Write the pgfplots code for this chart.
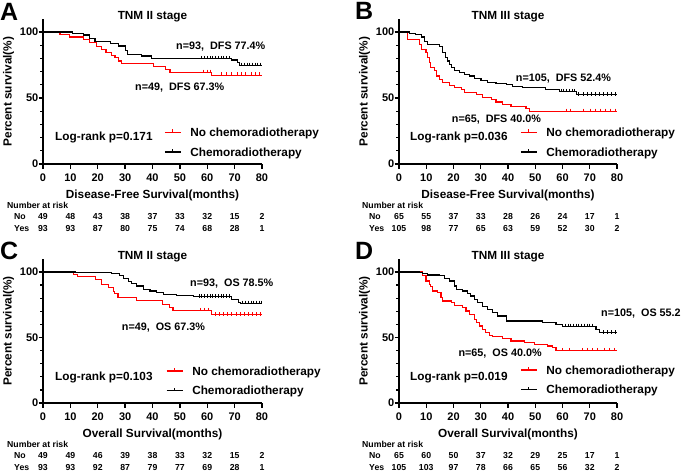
\documentclass[border=0pt]{standalone}
\usepackage{pgfplots}
\pgfplotsset{compat=1.18}
\usepackage{fontspec}
\setmainfont{Liberation Sans}
\newcommand\fs[1]{\bfseries\fontsize{#1}{#1}\selectfont}
\pgfplotsset{
 kmbase/.style={
  scale only axis,
  xmin=0, xmax=80, ymin=0, ymax=110,
  axis x line*=bottom, axis y line*=left,
  axis line style={line width=1.5pt, black},
  xtick={0,10,...,80}, ytick={0,50,100},
  minor ytick={10,20,30,40,60,70,80,90},
  tick align=outside,
  major tick length=4.5pt, minor tick length=3pt,
  tick style={black, line width=1.3pt},
  /pgf/number format/assume math mode=true,
  tick label style={font=\fs{11}},
  xticklabel style={anchor=base, inner sep=0pt, yshift=-13.2pt},
  yticklabel style={anchor=east, inner sep=0pt, xshift=0pt},
  clip=false,
  every axis y label/.style={at={(rel axis cs:0,0.5)}, rotate=90, anchor=center, yshift=34.5pt, font=\fs{11.8}},
  every axis x label/.style={at={(rel axis cs:0.5,0)}, anchor=base, yshift=-34.3pt, font=\fs{11.8}},
  ylabel={Percent survival(\%)},
  legend cell align=left,
  legend style={draw=none, fill=none, inner sep=0pt, font=\fs{11.8}, row sep=8.5pt,
    nodes={inner sep=0pt, text height=8.6pt, text depth=2.6pt}},
  legend image code/.code={\draw[#1, line width=1.2pt] (0pt,1.2pt) -- (16pt,1.2pt); \draw[#1, line width=1pt] (8pt,1.2pt) -- (8pt,4pt); \path (25pt,0pt);},
 },
 km/.style={const plot, line width=1.1pt},
 cens/.style={only marks, mark=|, mark size=1.7pt, mark options={line width=0.8pt, yshift=1pt}, forget plot},
}
\tikzset{lab/.style={inner sep=0pt, anchor=base west}}
\begin{document}
\begin{tikzpicture}
\path[use as bounding box] (0pt,0pt) rectangle (685pt,-471pt);
% ---------------- Panel A
\begin{axis}[kmbase, at={(43pt,-164pt)}, anchor=south west, width=219pt, height=145.2pt,
  xlabel={Disease-Free Survival(months)},
  legend style={at={(axis cs:44.2,15.7)}, anchor=west}]
\addplot[km, red] coordinates {(0,100)(6.2,98.2)(9.6,96.2)(14.7,94.4)(17,92)(19.6,89)(21.4,87)(23,84.3)(25,82.3)(26.3,80.5)(27.5,78)(28.7,76)(40.3,73.7)(44.6,71.7)(46.4,69.4)(61.6,67.3)(80,67.3)};
\addlegendentry{No chemoradiotherapy}
\addplot[km, black] coordinates {(0,100)(10.7,99)(14.7,97.7)(17,95.2)(19,93)(24.5,91)(27.5,89.4)(30,86)(31,83)(36,81.8)(39.7,79.8)(69,78.8)(71,76.8)(71.8,74.7)(80,74.7)};
\addlegendentry{Chemoradiotherapy}
\addplot[cens, red] coordinates {(58.5,69.4)(60,69.4)(61,69.4)(65,67.3)(67,67.3)(69,67.3)(71,67.3)(72.5,67.3)(74,67.3)(76,67.3)(77.5,67.3)(79,67.3)};
\addplot[cens, black] coordinates {(58,79.8)(59,79.8)(60,79.8)(61,79.8)(62,79.8)(63,79.8)(64,79.8)(65,79.8)(66,79.8)(67,79.8)(68,79.8)(72.5,74.7)(73.5,74.7)(74.5,74.7)(75.5,74.7)(76.5,74.7)(77.5,74.7)(78.5,74.7)(79.5,74.7)};
\end{axis}
% ---------------- Panel B
\begin{axis}[kmbase, at={(399pt,-164pt)}, anchor=south west, width=218pt, height=145.2pt,
  xlabel={Disease-Free Survival(months)},
  legend style={at={(axis cs:44.4,15.7)}, anchor=west}]
\addplot[km, red] coordinates {(0,100)(3.2,94.4)(7.5,90.7)(8.1,86.9)(9.9,84.3)(10.5,80.6)(11.1,76.8)(11.7,73)(13,70.5)(13.6,66.7)(14.8,64.1)(16,61.6)(18.5,59.8)(20.3,57.8)(22.8,56.6)(24,54)(28.3,52.8)(30.7,50.3)(33.8,49)(35.6,47)(38,45.2)(41.1,43.9)(46.6,41.9)(47.8,40)(80,40)};
\addlegendentry{No chemoradiotherapy}
\addplot[km, black] coordinates {(0,100)(3.8,99)(6.2,98)(8.1,96.2)(9.3,93)(10.5,90.7)(14.8,89)(16,84.3)(17.2,80.5)(17.9,78)(18.5,75.5)(19.1,73)(20.3,71)(22.1,69.2)(24,68)(25.8,66.7)(27.6,64.6)(30.1,63.4)(32.5,62)(35.6,61)(39.3,60.3)(41.7,59)(45.4,57.8)(53.9,56.6)(58.8,54.8)(65,52.4)(80,52.4)};
\addlegendentry{Chemoradiotherapy}
\addplot[cens, red] coordinates {(61.6,40)(62.9,40)(67.8,40)(70.2,40)(72.1,40)(73.9,40)(75.7,40)(77.6,40)(79.4,40)};
\addplot[cens, black] coordinates {(59.5,54.8)(60.5,54.8)(61.5,54.8)(62.5,54.8)(63.5,54.8)(64.5,54.8)(66,52.4)(67.5,52.4)(69,52.4)(70.5,52.4)(72,52.4)(73.5,52.4)(75,52.4)(76.5,52.4)(78,52.4)(79.5,52.4)};
\end{axis}
% ---------------- Panel C
\begin{axis}[kmbase, at={(43pt,-403pt)}, anchor=south west, width=219pt, height=144.1pt,
  xlabel={Overall Survival(months)},
  legend style={at={(axis cs:44.9,16)}, anchor=west}]
\addplot[km, red] coordinates {(0,100)(11,98.2)(12.5,96.7)(19.3,94.2)(21.3,90.4)(23.8,88.4)(25.6,85.3)(26.2,83.5)(27.4,80.2)(34.1,78.4)(43.8,75.1)(46.3,72.6)(47.5,70.5)(61.5,67.3)(80,67.3)};
\addlegendentry{No chemoradiotherapy}
\addplot[km, black] coordinates {(0,100)(11.7,99.5)(25,99)(28,97)(29.5,95)(31.2,93)(32.4,91.3)(34.2,89.3)(36.7,86.8)(39.1,85.5)(41.5,84.2)(44,83)(48.8,82.2)(54.9,81)(69,79)(71.4,77)(72,76)(80,76)};
\addlegendentry{Chemoradiotherapy}
\addplot[cens, red] coordinates {(57.5,70.5)(59,70.5)(60.5,70.5)(63,67.3)(64.5,67.3)(66,67.3)(67.5,67.3)(69,67.3)(70.5,67.3)(72,67.3)(73.5,67.3)(75,67.3)(76.5,67.3)(78,67.3)(79.5,67.3)};
\addplot[cens, black] coordinates {(57,81)(58,81)(59,81)(60,81)(61,81)(62,81)(63,81)(64,81)(65,81)(66,81)(67,81)(68,81)(73,76)(74,76)(75,76)(76,76)(77,76)(78,76)(79,76)(79.8,76)};
\end{axis}
% ---------------- Panel D
\begin{axis}[kmbase, at={(399pt,-403pt)}, anchor=south west, width=218pt, height=144.1pt,
  xlabel={Overall Survival(months)},
  legend style={at={(axis cs:44.4,16.8)}, anchor=west}]
\addplot[km, red] coordinates {(0,100)(8.7,97)(9.9,93.1)(11.1,90.6)(11.7,88.8)(12.4,85.5)(14.2,84.2)(15.4,80.4)(16,77.9)(19.1,76.6)(20.3,74.6)(23.4,72.8)(24.6,70.2)(25.8,67.7)(27.6,63.9)(28.3,61.3)(29.5,58.8)(30.7,56.2)(31.9,53.7)(33.1,51.7)(34.4,50.6)(38,49.1)(41.1,47.3)(46,46)(49.7,44.8)(54.6,43.5)(56.4,42.2)(57.6,40)(80,40)};
\addlegendentry{No chemoradiotherapy}
\addplot[km, black] coordinates {(0,100)(7.5,99.5)(8.7,98.7)(10.5,97.7)(14.8,97)(16.6,95.2)(18.5,93.1)(20.3,89.3)(21,86.8)(23.4,85.5)(25.2,83.7)(26.4,81.7)(27.6,79.1)(28.9,76.6)(30.7,74)(32.5,71.5)(34.4,69)(36.2,66.4)(39.3,62.6)(52.7,61.5)(57.6,60)(60,58.5)(72.3,56)(73.5,53.5)(80,53.5)};
\addlegendentry{Chemoradiotherapy}
\addplot[cens, red] coordinates {(60,40)(62.5,40)(67.4,40)(69.2,40)(71.1,40)(72.9,40)(75.4,40)(77.2,40)(79,40)};
\addplot[cens, black] coordinates {(61,58.5)(62,58.5)(63,58.5)(64,58.5)(65,58.5)(66,58.5)(67,58.5)(68,58.5)(69,58.5)(70,58.5)(71,58.5)(75,53.5)(76.5,53.5)(78,53.5)(79.5,53.5)};
\end{axis}
% ---------------- texts
\node[lab, font=\fs{25}] at (0pt,-20pt) {A};
\node[lab, font=\fs{25}] at (355pt,-19.5pt) {B};
\node[lab, font=\fs{25}] at (0pt,-259.5pt) {C};
\node[lab, font=\fs{25}] at (355pt,-259.5pt) {D};
\node[inner sep=0pt, anchor=base, font=\fs{11.8}] at (152.5pt,-19.3pt) {TNM II stage};
\node[inner sep=0pt, anchor=base, font=\fs{11.8}] at (508pt,-19.3pt) {TNM III stage};
\node[inner sep=0pt, anchor=base, font=\fs{11.8}] at (152.5pt,-259pt) {TNM II stage};
\node[inner sep=0pt, anchor=base, font=\fs{11.8}] at (508pt,-259.3pt) {TNM III stage};
\node[lab, font=\fs{10.8}] at (176pt,-49pt) {n=93,\ \ DFS 77.4\%};
\node[lab, font=\fs{10.8}] at (135pt,-90pt) {n=49,\ \ DFS 67.3\%};
\node[lab, font=\fs{10.8}] at (515.7pt,-81pt) {n=105,\ \ DFS 52.4\%};
\node[lab, font=\fs{10.8}] at (451.7pt,-122.3pt) {n=65,\ \ DFS 40.0\%};
\node[lab, font=\fs{10.8}] at (190pt,-286.7pt) {n=93,\ \ OS 78.5\%};
\node[lab, font=\fs{10.8}] at (121.7pt,-330pt) {n=49,\ \ OS 67.3\%};
\node[lab, font=\fs{10.8}] at (601pt,-316pt) {n=105,\ \ OS 55.2};
\node[lab, font=\fs{10.8}] at (458.3pt,-356.7pt) {n=65,\ \ OS 40.0\%};
\node[lab, font=\fs{11.8}] at (55pt,-140pt) {Log-rank p=0.171};
\node[lab, font=\fs{11.8}] at (410pt,-140pt) {Log-rank p=0.036};
\node[lab, font=\fs{11.8}] at (55pt,-380pt) {Log-rank p=0.103};
\node[lab, font=\fs{11.8}] at (410pt,-380.7pt) {Log-rank p=0.019};
% risk tables
\node[lab, font=\fs{8.7}] at (7pt,-208.3pt) {Number at risk};
\node[lab, font=\fs{8.7}] at (14pt,-219.3pt) {No};
\node[lab, font=\fs{8.7}] at (14pt,-231.7pt) {Yes};
\foreach \v [count=\i from 0] in {49,48,43,38,37,33,32,15,2}
  \node[inner sep=0pt, anchor=base, font=\fs{8.7}] at ({(43+27.375*\i)*1pt},-219.3pt) {\v};
\foreach \v [count=\i from 0] in {93,93,87,80,75,74,68,28,1}
  \node[inner sep=0pt, anchor=base, font=\fs{8.7}] at ({(43+27.375*\i)*1pt},-231.7pt) {\v};
\node[lab, font=\fs{8.7}] at (362pt,-208.3pt) {Number at risk};
\node[lab, font=\fs{8.7}] at (369pt,-219.3pt) {No};
\node[lab, font=\fs{8.7}] at (369pt,-231.7pt) {Yes};
\foreach \v [count=\i from 0] in {65,55,37,33,28,26,24,17,1}
  \node[inner sep=0pt, anchor=base, font=\fs{8.7}] at ({(399+27.25*\i)*1pt},-219.3pt) {\v};
\foreach \v [count=\i from 0] in {105,98,77,65,63,59,52,30,2}
  \node[inner sep=0pt, anchor=base, font=\fs{8.7}] at ({(399+27.25*\i)*1pt},-231.7pt) {\v};
\node[lab, font=\fs{8.7}] at (7pt,-447.3pt) {Number at risk};
\node[lab, font=\fs{8.7}] at (14pt,-458.3pt) {No};
\node[lab, font=\fs{8.7}] at (14pt,-470pt) {Yes};
\foreach \v [count=\i from 0] in {49,49,46,39,38,33,32,15,2}
  \node[inner sep=0pt, anchor=base, font=\fs{8.7}] at ({(43+27.375*\i)*1pt},-458.3pt) {\v};
\foreach \v [count=\i from 0] in {93,93,92,87,79,77,69,28,1}
  \node[inner sep=0pt, anchor=base, font=\fs{8.7}] at ({(43+27.375*\i)*1pt},-470pt) {\v};
\node[lab, font=\fs{8.7}] at (362pt,-447.3pt) {Number at risk};
\node[lab, font=\fs{8.7}] at (369pt,-458.3pt) {No};
\node[lab, font=\fs{8.7}] at (369pt,-470pt) {Yes};
\foreach \v [count=\i from 0] in {65,60,50,37,32,29,25,17,1}
  \node[inner sep=0pt, anchor=base, font=\fs{8.7}] at ({(399+27.25*\i)*1pt},-458.3pt) {\v};
\foreach \v [count=\i from 0] in {105,103,97,78,66,65,56,32,2}
  \node[inner sep=0pt, anchor=base, font=\fs{8.7}] at ({(399+27.25*\i)*1pt},-470pt) {\v};
\end{tikzpicture}
\end{document}
